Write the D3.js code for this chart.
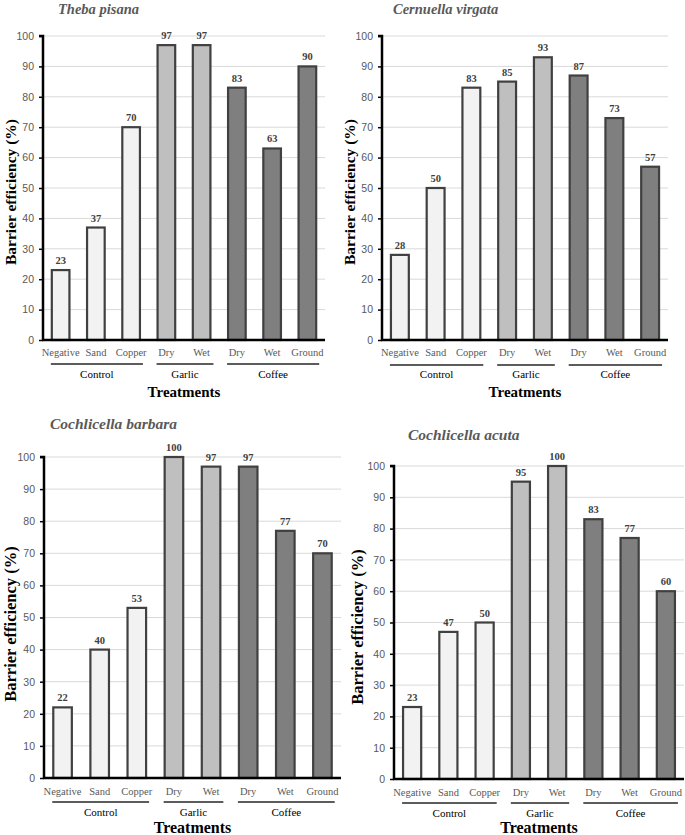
<!DOCTYPE html>
<html>
<head>
<meta charset="utf-8">
<script src="https://cdn.jsdelivr.net/npm/d3@7"></script>
<style>
  html, body { margin: 0; padding: 0; background: #fff; }
  svg { display: block; }
</style>
</head>
<body>
<svg id="chart" width="685" height="835"></svg>
<script>
// ---------------- DATA ----------------
const categories = ["Negative", "Sand", "Copper", "Dry", "Wet", "Dry", "Wet", "Ground"];
const groups = ["Control", "Control", "Control", "Garlic", "Garlic", "Coffee", "Coffee", "Coffee"];
const groupNames = ["Control", "Garlic", "Coffee"];
const species = ["Theba pisana", "Cernuella virgata", "Cochlicella barbara", "Cochlicella acuta"];
const thebaPisana = [23, 37, 70, 97, 97, 83, 63, 90];
const cernuellaVirgata = [28, 50, 83, 85, 93, 87, 73, 57];
const cochlicellaBarbara = [22, 40, 53, 100, 97, 97, 77, 70];
const cochlicellaAcuta = [23, 47, 50, 95, 100, 83, 77, 60];
const yTicks = [0, 10, 20, 30, 40, 50, 60, 70, 80, 90, 100];
const yAxisTitle = "Barrier efficiency (%)";
const xAxisTitle = "Treatments";

const seriesList = [thebaPisana, cernuellaVirgata, cochlicellaBarbara, cochlicellaAcuta];
const groupFill = { Control: "#f2f2f2", Garlic: "#bfbfbf", Coffee: "#7f7f7f" };

// ---------------- LAYOUT ----------------
const panels = [
  { x0: 43, x1: 325, yTop: 36, yBot: 340, titleX: 58, titleY: 14, yLabX: 10, yLabY: 192, yLabSize: 15.5,
    xLabY: 356, gLineY: 364, gLabY: 378, treatY: 397, treatSize: 15, titleSize: 14.5 },
  { x0: 382, x1: 668, yTop: 36, yBot: 340, titleX: 393, titleY: 14, yLabX: 349, yLabY: 192, yLabSize: 15.5,
    xLabY: 356, gLineY: 365, gLabY: 378, treatY: 397, treatSize: 15, titleSize: 14.5 },
  { x0: 44, x1: 341, yTop: 457, yBot: 778, titleX: 50, titleY: 429, yLabX: 10, yLabY: 624, yLabSize: 16.5,
    xLabY: 795, gLineY: 802, gLabY: 816, treatY: 833, treatSize: 16, titleSize: 15.5 },
  { x0: 394, x1: 684, yTop: 466, yBot: 779, titleX: 408, titleY: 440, yLabX: 357, yLabY: 627, yLabSize: 16.5,
    xLabY: 796, gLineY: 803, gLabY: 817, treatY: 833, treatSize: 16, titleSize: 15.5 }
];

const serif = "'Liberation Serif', 'Times New Roman', serif";
const sans = "'Liberation Sans', Arial, sans-serif";
const svg = d3.select("#chart");

panels.forEach((p, pi) => {
  const values = seriesList[pi];
  const g = svg.append("g");

  const x = d3.scaleBand().domain(d3.range(categories.length))
    .range([p.x0, p.x1]).paddingInner(0.5).paddingOuter(0.25);
  const y = d3.scaleLinear().domain([0, 100]).range([p.yBot, p.yTop]);

  // gridlines
  g.selectAll(".grid").data(yTicks.filter(t => t > 0)).join("line")
    .attr("x1", p.x0).attr("x2", p.x1)
    .attr("y1", d => y(d)).attr("y2", d => y(d))
    .attr("stroke", "#d9d9d9").attr("stroke-width", 1);

  // y axis
  const yAxis = d3.axisLeft(y).tickValues(yTicks).tickSize(4).tickPadding(5);
  const ya = g.append("g").attr("transform", `translate(${p.x0},0)`).call(yAxis);
  ya.select(".domain").attr("stroke", "#000").attr("stroke-width", 2.5).attr("d", `M-4,${y(100)}H0V${y(0)}`);
  ya.selectAll(".tick line").attr("stroke", "#000").attr("stroke-width", 1.5);
  ya.selectAll(".tick text").attr("fill", "#595959").style("font-family", sans).style("font-size", "10.5px");

  // bars
  g.selectAll(".bar").data(values).join("rect")
    .attr("x", (d, i) => x(i))
    .attr("width", x.bandwidth())
    .attr("y", d => y(d))
    .attr("height", d => y(0) - y(d))
    .attr("fill", (d, i) => groupFill[groups[i]])
    .attr("stroke", "#404040").attr("stroke-width", 2.2);

  // x axis line
  g.append("line").attr("x1", p.x0 - 1).attr("x2", p.x1).attr("y1", y(0)).attr("y2", y(0))
    .attr("stroke", "#000").attr("stroke-width", 2.5);

  // value labels
  g.selectAll(".val").data(values).join("text")
    .attr("x", (d, i) => x(i) + x.bandwidth() / 2)
    .attr("y", d => y(d) - 6)
    .attr("text-anchor", "middle")
    .attr("fill", "#404040")
    .style("font-family", serif).style("font-weight", "bold").style("font-size", "10.5px")
    .text(d => d);

  // category labels
  g.selectAll(".cat").data(categories).join("text")
    .attr("x", (d, i) => x(i) + x.bandwidth() / 2)
    .attr("y", p.xLabY)
    .attr("text-anchor", "middle")
    .attr("fill", "#595959")
    .style("font-family", serif).style("font-size", "10.5px")
    .text(d => d);

  // group lines & labels
  groupNames.forEach(gn => {
    const idx = d3.range(categories.length).filter(i => groups[i] === gn);
    const a = x(idx[0]) - 1;
    const b = x(idx[idx.length - 1]) + x.bandwidth() + 3;
    g.append("line").attr("x1", a).attr("x2", b).attr("y1", p.gLineY).attr("y2", p.gLineY)
      .attr("stroke", "#262626").attr("stroke-width", 1.5);
    g.append("text").attr("x", (a + b) / 2).attr("y", p.gLabY)
      .attr("text-anchor", "middle").attr("fill", "#000")
      .style("font-family", serif).style("font-size", "11px")
      .text(gn);
  });

  // x title
  g.append("text").attr("x", (p.x0 + p.x1) / 2).attr("y", p.treatY)
    .attr("text-anchor", "middle").attr("fill", "#000")
    .style("font-family", serif).style("font-weight", "bold").style("font-size", p.treatSize + "px")
    .text(xAxisTitle);

  // y title
  g.append("text")
    .attr("transform", `translate(${p.yLabX},${p.yLabY}) rotate(-90)`)
    .attr("text-anchor", "middle").attr("dominant-baseline", "central").attr("fill", "#000")
    .style("font-family", serif).style("font-weight", "bold").style("font-size", p.yLabSize + "px")
    .text(yAxisTitle);

  // panel title
  g.append("text").attr("x", p.titleX).attr("y", p.titleY)
    .attr("fill", "#595959")
    .style("font-family", serif).style("font-weight", "bold").style("font-style", "italic")
    .style("font-size", p.titleSize + "px")
    .text(species[pi]);
});
</script>
</body>
</html>
